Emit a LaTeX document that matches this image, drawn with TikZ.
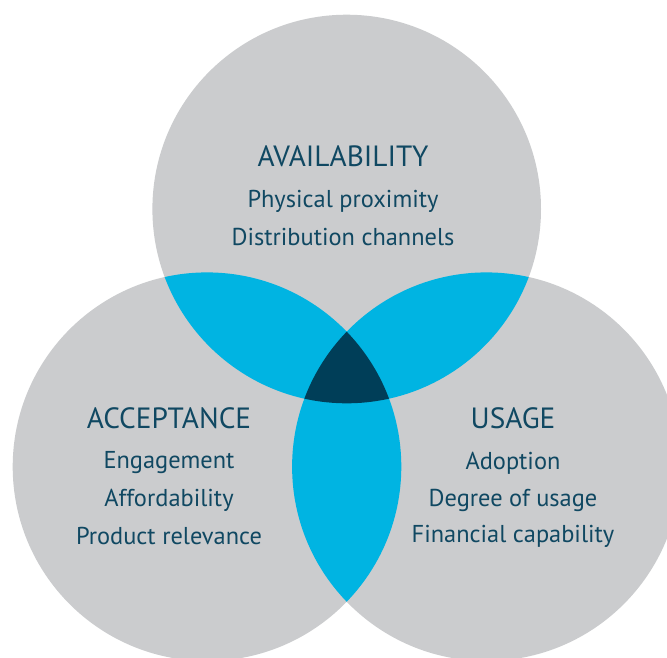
\documentclass[tikz,border=0pt]{standalone}
\usepackage{fontspec}
\setmainfont{PT Sans}
\definecolor{vgray}{RGB}{203,204,206}
\definecolor{vblue}{RGB}{0,180,226}
\definecolor{vdark}{RGB}{0,62,88}
\definecolor{vtext}{RGB}{16,72,98}
\tikzset{
  head/.style={text=vtext, font=\fontsize{29.3}{32}\selectfont, inner sep=0pt},
  body/.style={text=vtext, font=\fontsize{24.4}{28}\selectfont, inner sep=0pt},
}
\begin{document}
\begin{tikzpicture}[x=1pt,y=-1pt]
\useasboundingbox (0,0) rectangle (667,657);
\fill[white] (0,0) rectangle (667,657);
\clip (0,0) rectangle (667,657);
\coordinate (T) at (346.7,209);
\coordinate (L) at (207,466.7);
\coordinate (R) at (486.4,466.7);
\fill[vgray] (T) circle[radius=194.3pt] (L) circle[radius=194.3pt] (R) circle[radius=194.3pt];
\begin{scope}
  \clip (T) circle[radius=194.3pt];
  \fill[vblue] (L) circle[radius=194.3pt] (R) circle[radius=194.3pt];
\end{scope}
\begin{scope}
  \clip (L) circle[radius=194.3pt];
  \fill[vblue] (R) circle[radius=194.3pt];
\end{scope}
\begin{scope}
  \clip (T) circle[radius=194.3pt];
  \clip (L) circle[radius=194.3pt];
  \fill[vdark] (R) circle[radius=194.3pt];
\end{scope}
\node[head] (avh) at (343,156) {AVAILABILITY};
\node[body] (av1) at (343,201) {Physical proximity};
\node[body] (av2) at (343,237) {Distribution channels};
\node[head] (ach) at (169,418) {ACCEPTANCE};
\node[body] (ac1) at (169,463) {Engagement};
\node[body] (ac2) at (169,500) {Affordability};
\node[body] (ac3) at (169,536) {Product relevance};
\node[head] (ush) at (513,418) {USAGE};
\node[body] (us1) at (513,463) {Adoption};
\node[body] (us2) at (513,500) {Degree of usage};
\node[body] (us3) at (513,536) {Financial capability};
\end{tikzpicture}
\end{document}
